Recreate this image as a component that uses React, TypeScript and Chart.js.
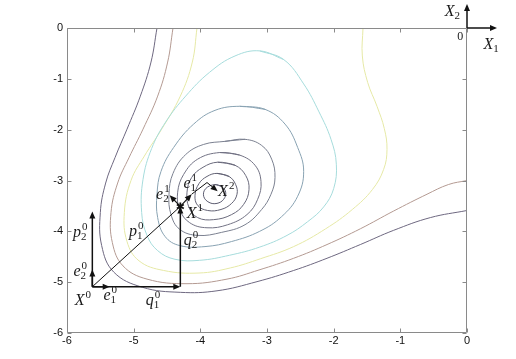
import React, { useEffect, useRef } from "react";
import { Chart, registerables } from "chart.js";

Chart.register(...registerables);

type Pt = [number, number];

// ---- axis ticks ----
const xTickValues = [-6, -5, -4, -3, -2, -1, 0];
const yTickValues = [0, -1, -2, -3, -4, -5, -6];

// ---- contour lines (inner -> outer) ----
const contour1: Pt[] = [[-3.78,-3.08],[-3.68,-3.12],[-3.62,-3.23],[-3.65,-3.37],[-3.75,-3.45],[-3.87,-3.43],[-3.95,-3.31],[-3.92,-3.16]];
const contour2: Pt[] = [[-3.75,-2.86],[-3.57,-2.92],[-3.47,-3.08],[-3.45,-3.27],[-3.53,-3.45],[-3.69,-3.57],[-3.89,-3.59],[-4.04,-3.49],[-4.08,-3.29],[-4.02,-3.06],[-3.9,-2.92]];
const contour3: Pt[] = [[-3.74,-2.64],[-3.48,-2.70],[-3.32,-2.90],[-3.27,-3.18],[-3.35,-3.47],[-3.53,-3.67],[-3.80,-3.77],[-4.04,-3.73],[-4.17,-3.53],[-4.2,-3.23],[-4.13,-2.94],[-3.96,-2.74]];
const contour4: Pt[] = [[-3.71,-2.45],[-3.41,-2.50],[-3.18,-2.70],[-3.09,-3.02],[-3.14,-3.37],[-3.3,-3.67],[-3.59,-3.87],[-3.9,-3.93],[-4.16,-3.83],[-4.31,-3.57],[-4.34,-3.23],[-4.25,-2.88],[-4.04,-2.58]];
const contour5: Pt[] = [[-3.63,-2.23],[-3.33,-2.19],[-3.08,-2.31],[-2.93,-2.58],[-2.88,-2.94],[-2.94,-3.27],[-3.08,-3.57],[-3.33,-3.87],[-3.68,-4.02],[-4.04,-4.08],[-4.31,-3.96],[-4.44,-3.67],[-4.47,-3.27],[-4.41,-2.86],[-4.22,-2.49],[-3.95,-2.29]];
const contour6: Pt[] = [[-3.41,-1.54],[-3.03,-1.60],[-2.73,-1.89],[-2.54,-2.35],[-2.45,-2.82],[-2.54,-3.31],[-2.78,-3.71],[-3.11,-4.00],[-3.53,-4.20],[-3.93,-4.30],[-4.31,-4.28],[-4.53,-4.10],[-4.64,-3.73],[-4.65,-3.27],[-4.59,-2.82],[-4.40,-2.35],[-4.10,-1.89],[-3.78,-1.62]];
const contour7: Pt[] = [[-3.11,-0.45],[-2.75,-0.62],[-2.45,-1.1],[-2.22,-1.65],[-2.04,-2.19],[-1.96,-2.68],[-2.0,-3.16],[-2.15,-3.52],[-2.39,-3.81],[-2.7,-4.08],[-3.11,-4.31],[-3.56,-4.47],[-4.01,-4.57],[-4.38,-4.55],[-4.64,-4.38],[-4.8,-4.08],[-4.88,-3.63],[-4.86,-2.98],[-4.73,-2.37],[-4.52,-1.85],[-4.22,-1.34],[-3.86,-0.87],[-3.48,-0.55]];
const contour8: Pt[] = [[-4.05,0],[-4.12,-0.67],[-4.3,-1.34],[-4.58,-1.99],[-4.84,-2.52],[-5.04,-3.0],[-5.14,-3.63],[-5.1,-4.2],[-4.92,-4.58],[-4.55,-4.77],[-4.02,-4.82],[-3.55,-4.72],[-3.1,-4.54],[-2.6,-4.3],[-2.12,-3.95],[-1.72,-3.57],[-1.42,-3.18],[-1.25,-2.78],[-1.2,-2.39],[-1.24,-1.98],[-1.35,-1.54],[-1.49,-1.07],[-1.57,-0.55],[-1.56,0]];
const contour9: Pt[] = [[-4.41,0],[-4.49,-0.67],[-4.64,-1.34],[-4.86,-1.99],[-5.07,-2.55],[-5.24,-3.05],[-5.34,-3.63],[-5.32,-4.22],[-5.16,-4.68],[-4.8,-4.94],[-4.2,-5.03],[-3.6,-4.94],[-3.12,-4.76],[-2.6,-4.53],[-2.1,-4.26],[-1.6,-3.95],[-1.1,-3.6],[-0.6,-3.27],[-0.28,-3.08],[0,-3.0]];
const contour10: Pt[] = [[-4.65,0],[-4.74,-0.67],[-4.9,-1.34],[-5.1,-1.99],[-5.28,-2.55],[-5.42,-3.05],[-5.5,-3.63],[-5.48,-4.28],[-5.3,-4.8],[-4.87,-5.1],[-4.3,-5.2],[-3.75,-5.17],[-3.15,-4.99],[-2.6,-4.77],[-2.1,-4.53],[-1.6,-4.26],[-1.1,-3.98],[-0.55,-3.73],[0,-3.59]];

const contours: Pt[][] = [contour1, contour2, contour3, contour4, contour5, contour6, contour7, contour8, contour9, contour10];
const contourClosed = [true, true, true, true, true, true, true, false, false, false];
const contourColors = ["#5c5c70", "#626274", "#6a6a7c", "#727284", "#7b8090", "#88a2b2", "#a6dcdc", "#e6e9a6", "#b49a92", "#6e6880"];

// ---- search points ----
const X0: Pt = [-5.62, -5.09];
const X1: Pt = [-4.3, -3.51];
const X2: Pt = [-3.74, -3.21];
const e10End: Pt = [-5.36, -5.09];
const e20End: Pt = [-5.62, -4.75];
const p20End: Pt = [-5.62, -3.61];
const q10End: Pt = [-4.3, -5.09];
const e11End: Pt = [-4.13, -3.27];
const e21End: Pt = [-4.46, -3.29];
const stepMid: Pt = [-3.9, -3.04];

// [from, to, arrowhead, width]
const segments: [Pt, Pt, boolean, number][] = [
  [X0, q10End, true, 1.5],
  [X0, e10End, true, 1.5],
  [X0, p20End, true, 1.5],
  [X0, e20End, true, 1.5],
  [X0, X1, false, 1],
  [q10End, X1, true, 1.5],
  [X1, e11End, true, 1.2],
  [X1, e21End, true, 1.2],
  [e11End, stepMid, false, 1],
  [stepMid, X2, true, 1],
];

// [anchor, base, sub, sup]
const mathLabels: [Pt, string, string, string][] = [
  [[-5.81, -5.44], "X", "", "0"],
  [[-5.40, -5.35], "e", "1", "0"],
  [[-4.76, -5.44], "q", "1", "0"],
  [[-5.85, -4.87], "e", "2", "0"],
  [[-5.85, -4.12], "p", "2", "0"],
  [[-5.01, -4.10], "p", "1", "0"],
  [[-4.19, -4.26], "q", "2", "0"],
  [[-4.13, -3.73], "X", "", "1"],
  [[-4.61, -3.37], "e", "2", "1"],
  [[-4.20, -3.14], "e", "1", "1"],
  [[-3.66, -3.31], "X", "", "2"],
  [[-0.26, 0.24], "X", "2", ""],
  [[0.32, -0.41], "X", "1", ""],
];

const originLabel: Pt = [-0.1, -0.24];
const axisOrigin: Pt = [0, 0];
const axisX1Tip: Pt = [0.45, 0];
const axisX2Tip: Pt = [0, 0.47];

function drawArrow(ctx: CanvasRenderingContext2D, a: number[], b: number[], head: boolean, lw: number) {
  const ang = Math.atan2(b[1] - a[1], b[0] - a[0]);
  const L = 7, W = 3;
  const end = head ? [b[0] - Math.cos(ang) * (L - 1), b[1] - Math.sin(ang) * (L - 1)] : b;
  ctx.lineWidth = lw;
  ctx.beginPath();
  ctx.moveTo(a[0], a[1]);
  ctx.lineTo(end[0], end[1]);
  ctx.stroke();
  if (head) {
    const bx = b[0] - Math.cos(ang) * L, by = b[1] - Math.sin(ang) * L;
    ctx.beginPath();
    ctx.moveTo(b[0], b[1]);
    ctx.lineTo(bx + Math.sin(ang) * W, by - Math.cos(ang) * W);
    ctx.lineTo(bx - Math.sin(ang) * W, by + Math.cos(ang) * W);
    ctx.closePath();
    ctx.fill();
  }
}

function drawMath(ctx: CanvasRenderingContext2D, px: number, py: number, base: string, sub: string, sup: string) {
  ctx.font = 'italic 16px "Liberation Serif", "DejaVu Serif", serif';
  ctx.textAlign = "center";
  ctx.textBaseline = "alphabetic";
  ctx.fillText(base, px, py);
  const w = ctx.measureText(base).width;
  ctx.font = '11px "Liberation Serif", "DejaVu Serif", serif';
  ctx.textAlign = "left";
  if (sup) ctx.fillText(sup, px + w / 2 + 1, py - 7);
  if (sub) ctx.fillText(sub, px + w / 2, py + 3);
}

const overlayPlugin = {
  id: "overlay",
  afterDraw(chart: any) {
    const ctx: CanvasRenderingContext2D = chart.ctx;
    const a = chart.chartArea;
    const xs = chart.scales.x, ys = chart.scales.y;
    const P = (p: Pt) => [xs.getPixelForValue(p[0]), ys.getPixelForValue(p[1])];
    ctx.save();
    // frame
    ctx.strokeStyle = "#8a8a8a";
    ctx.lineWidth = 1;
    const l = Math.round(a.left) + 0.5, r = Math.round(a.right) - 0.5;
    const t = Math.round(a.top) + 0.5, b = Math.round(a.bottom) - 0.5;
    ctx.beginPath();
    ctx.rect(l, t, r - l, b - t);
    ctx.stroke();
    // inward ticks
    ctx.beginPath();
    for (const v of xTickValues) {
      const px = Math.round(xs.getPixelForValue(v)) + 0.5;
      ctx.moveTo(px, b); ctx.lineTo(px, b - 4);
      ctx.moveTo(px, t); ctx.lineTo(px, t + 4);
    }
    for (const v of yTickValues) {
      const py = Math.round(ys.getPixelForValue(v)) + 0.5;
      ctx.moveTo(l, py); ctx.lineTo(l + 4, py);
      ctx.moveTo(r, py); ctx.lineTo(r - 4, py);
    }
    ctx.stroke();

    // arrows
    ctx.strokeStyle = "#111";
    ctx.fillStyle = "#111";
    for (const [f, to, head, lw] of segments) drawArrow(ctx, P(f), P(to), head, lw);

    // star marker at X1
    const s = P(X1);
    ctx.lineWidth = 1.8;
    ctx.beginPath();
    for (let k = 0; k < 3; k++) {
      const an = (Math.PI / 3) * k + Math.PI / 2;
      ctx.moveTo(s[0] - Math.cos(an) * 4, s[1] - Math.sin(an) * 4);
      ctx.lineTo(s[0] + Math.cos(an) * 4, s[1] + Math.sin(an) * 4);
    }
    ctx.stroke();

    // X1 / X2 axis indicator
    const o = P(axisOrigin);
    drawArrow(ctx, o, P(axisX1Tip), true, 1.5);
    drawArrow(ctx, o, P(axisX2Tip), true, 1.5);

    // labels
    ctx.fillStyle = "#1a1a1a";
    for (const [p, base, sub, sup] of mathLabels) {
      const q = P(p);
      drawMath(ctx, q[0], q[1], base, sub, sup);
    }
    const ol = P(originLabel);
    ctx.font = '12px "Liberation Serif", "DejaVu Serif", serif';
    ctx.textAlign = "center";
    ctx.fillText("0", ol[0], ol[1]);
    ctx.restore();
  },
};

export default function App() {
  const ref = useRef<HTMLCanvasElement>(null);
  useEffect(() => {
    const datasets = contours.map((c, i) => ({
      data: (contourClosed[i] ? [...c, c[0], c[1]] : c).map(([x, y]) => ({ x, y })),
      borderColor: contourColors[i],
      borderWidth: 1,
      showLine: true,
      pointRadius: 0,
      tension: 0.4,
      fill: false,
    }));
    const tickFont = { family: '"Liberation Sans", Arial, sans-serif', size: 11 };
    const chart = new Chart(ref.current!, {
      type: "scatter",
      data: { datasets },
      options: {
        animation: false,
        responsive: false,
        devicePixelRatio: 1,
        events: [],
        layout: { padding: { top: 28, right: 49, left: 0, bottom: 0 } },
        plugins: { legend: { display: false }, tooltip: { enabled: false } },
        scales: {
          x: {
            type: "linear",
            min: -6,
            max: 0,
            afterBuildTicks: (sc: any) => { sc.ticks = xTickValues.map((v) => ({ value: v })); },
            afterFit: (sc: any) => { sc.height = 26; },
            grid: { display: false, drawTicks: false },
            border: { display: false },
            ticks: { padding: 1, color: "#111", font: tickFont },
          },
          y: {
            type: "linear",
            min: -6,
            max: 0,
            afterBuildTicks: (sc: any) => { sc.ticks = yTickValues.map((v) => ({ value: v })); },
            afterFit: (sc: any) => { sc.width = 67; },
            grid: { display: false, drawTicks: false },
            border: { display: false },
            ticks: { padding: 4, color: "#111", font: tickFont },
          },
        },
      },
      plugins: [overlayPlugin],
    } as any);
    return () => chart.destroy();
  }, []);
  return (
    <div style={{ position: "absolute", left: 0, top: 0, width: 516, height: 359, background: "#fff" }}>
      <canvas ref={ref} width={516} height={359} style={{ display: "block" }} />
    </div>
  );
}
